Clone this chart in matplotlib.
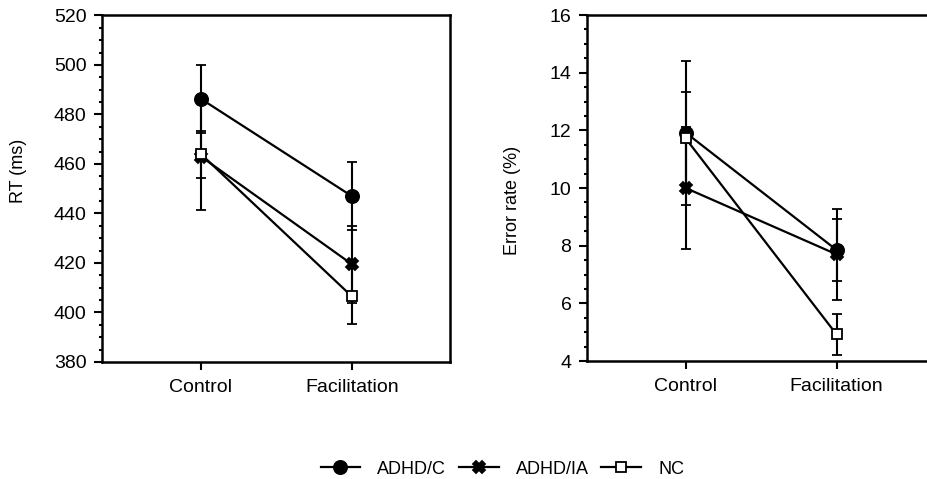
"""RT and error rate by condition for ADHD/C, ADHD/IA and NC groups."""

import matplotlib
matplotlib.use("Agg")
import matplotlib.pyplot as plt
from matplotlib.ticker import MultipleLocator

plt.rcParams['font.family'] = ['Liberation Sans', 'DejaVu Sans']

# Data
conditions = ['Control', 'Facilitation']
groups = ['ADHD/C', 'ADHD/IA', 'NC']

rt_mean = {'ADHD/C': [486.3, 447.0], 'ADHD/IA': [463.0, 419.5], 'NC': [464.0, 406.5]}
rt_err = {'ADHD/C': [13.8, 13.6], 'ADHD/IA': [21.5, 15.5], 'NC': [9.5, 11.3]}

err_mean = {'ADHD/C': [11.92, 7.85], 'ADHD/IA': [10.0, 7.7], 'NC': [11.72, 4.92]}
err_err = {'ADHD/C': [2.5, 1.07], 'ADHD/IA': [2.1, 1.57], 'NC': [1.6, 0.71]}

STYLE = {
    'ADHD/C': dict(marker='o', markersize=9.5, markerfacecolor='black'),
    'ADHD/IA': dict(marker='X', markersize=9, markerfacecolor='black'),
    'NC': dict(marker='s', markersize=7.5, markerfacecolor='white'),
}
FS = 13
TICK_FS = 14


def draw_panel(ax, means, errs, ylim, major, minor, ylabel, label_xy):
    """Draw one line panel with error bars."""
    x = [1, 2]
    for g in groups:
        ax.errorbar(x, means[g], yerr=errs[g], color='black', lw=1.6,
                    elinewidth=1.5, capsize=3.5, capthick=1.5,
                    markeredgecolor='black', markeredgewidth=1.3,
                    label=g, **STYLE[g])
    ax.set_xlim(0.344, 2.65)
    ax.set_ylim(*ylim)
    ax.set_xticks(x)
    ax.set_xticklabels(conditions)
    ax.yaxis.set_major_locator(MultipleLocator(major))
    ax.yaxis.set_minor_locator(MultipleLocator(minor))
    ax.tick_params(axis='both', which='major', direction='out', length=6,
                   width=1.5, labelsize=TICK_FS)
    ax.tick_params(axis='x', pad=6)
    ax.tick_params(axis='y', pad=5)
    ax.tick_params(axis='y', which='minor', direction='out', length=2.5, width=1.5)
    for s in ax.spines.values():
        s.set_linewidth(1.8)
    ax.set_ylabel(ylabel, fontsize=FS)
    ax.yaxis.set_label_coords(*label_xy)


fig = plt.figure(figsize=(9.27, 4.79), dpi=100)
ax1 = fig.add_axes([0.110, 0.2443, 0.3754, 0.7234])
ax2 = fig.add_axes([0.6329, 0.2463, 0.3754, 0.7223])

draw_panel(ax1, rt_mean, rt_err, (380, 520), 20, 5, 'RT (ms)', (-0.2155, 0.551))
draw_panel(ax2, err_mean, err_err, (4, 16), 2, 0.5, 'Error rate (%)', (-0.189, 0.465))
ax2.spines['right'].set_visible(False)

handles, labels = ax1.get_legend_handles_labels()
handles = [h[0] for h in handles]
fig.legend(handles, labels, loc='center', bbox_to_anchor=(0.542, 1 - 469 / 479),
           ncol=3, frameon=False, fontsize=FS, handlelength=2.2,
           handletextpad=0.95, columnspacing=0.7)

fig.savefig('out.png', dpi=100, facecolor='white')
